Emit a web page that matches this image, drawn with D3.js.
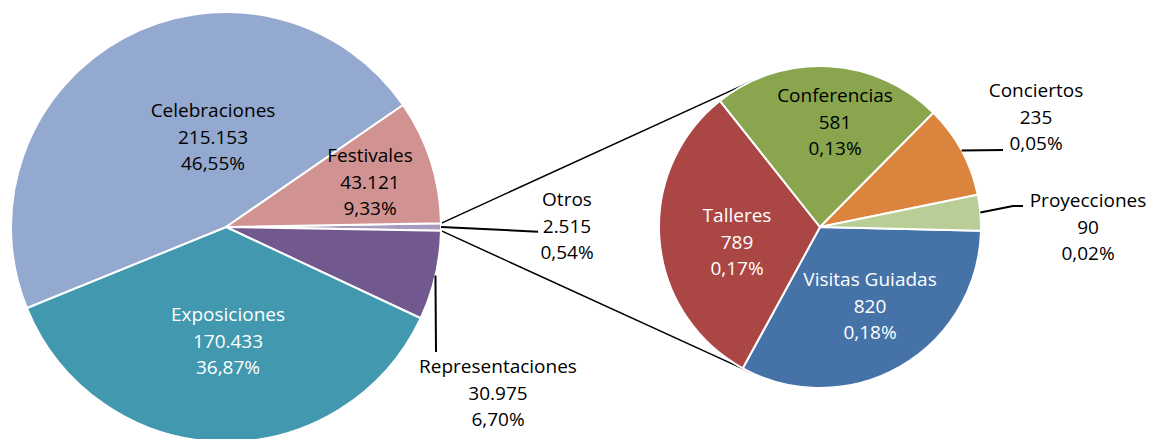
<!DOCTYPE html>
<html>
<head>
<meta charset="utf-8">
<script src="https://cdn.jsdelivr.net/npm/d3@7"></script>
<style>
  body { margin: 0; background: #fff; }
  text { font-family: "Open Sans", Lato, sans-serif; font-size: 19px; }
</style>
</head>
<body>
<div id="chart"></div>
<script>
// data
var mainLabels = ["Otros", "Representaciones", "Exposiciones", "Celebraciones", "Festivales"];
var mainValues = [2515, 30975, 170433, 215153, 43121];
var subLabels = ["Visitas Guiadas", "Talleres", "Conferencias", "Conciertos", "Proyecciones"];
var subValues = [820, 789, 581, 235, 90];

var mainColors = ["#A99BBD", "#71588F", "#4198AF", "#93A9CF", "#D19392"];
var subColors = ["#4572A7", "#AA4643", "#89A54E", "#DB843D", "#B9CD96"];

// label placement (offset from pie centre: x centre, first baseline)
var mainLabelPos = {
  "Celebraciones": [-13, -110, "#000"],
  "Festivales": [144, -65, "#000"],
  "Exposiciones": [2, 94, "#fff"],
  "Representaciones": [272, 146, "#000"],
  "Otros": [341, -21, "#000"]
};
var subLabelPos = {
  "Talleres": [-83, -5, "#fff"],
  "Conferencias": [15, -125, "#000"],
  "Visitas Guiadas": [50, 59, "#fff"],
  "Conciertos": [216, -130, "#000"],
  "Proyecciones": [268, -20, "#000"]
};
// leader lines: extra points after the slice anchor (offset from pie centre)
var mainLeaders = {
  "Otros": [[312, 4.7]],
  "Representaciones": [[210, 125]]
};
var subLeaders = {
  "Conciertos": [[183, -77]],
  "Proyecciones": [[193, -21], [203, -21]]
};

var width = 1149, height = 439;
var mainC = [226, 227], mainR = 215;
var subC = [820, 227], subR = 161;
var lineH = 26.7;

var es = d3.formatLocale({decimal: ",", thousands: ".", grouping: [3], currency: ["", " €"]});
var fmtNum = es.format(",");
var fmtPct = es.format(".2%");
var total = d3.sum(mainValues);

var svg = d3.select("#chart").append("svg")
  .attr("width", width)
  .attr("height", height);

var deg = Math.PI / 180;
var otrosSpan = mainValues[0] / total * 2 * Math.PI;

var mainPie = d3.pie().sort(null)
  .startAngle(Math.PI / 2 - otrosSpan / 2)
  .endAngle(Math.PI / 2 - otrosSpan / 2 + 2 * Math.PI);
var subPie = d3.pie().sort(null)
  .startAngle(91.3 * deg)
  .endAngle(91.3 * deg + 2 * Math.PI);

var mainArcs = mainPie(mainValues)
  .map((a, i) => Object.assign(a, {label: mainLabels[i], color: mainColors[i]}));
var subArcs = subPie(subValues)
  .map((a, i) => Object.assign(a, {label: subLabels[i], color: subColors[i]}));

function drawPie(arcs, c, r, labelPos, leaders) {
  var g = svg.append("g").attr("transform", `translate(${c[0]}, ${c[1]})`);
  var arc = d3.arc().innerRadius(0).outerRadius(r);
  var edge = d3.arc().innerRadius(r).outerRadius(r);

  g.selectAll("path.slice")
    .data(arcs)
    .enter()
    .append("path")
    .attr("class", "slice")
    .attr("d", arc)
    .attr("fill", d => d.color)
    .attr("stroke", "#fff")
    .attr("stroke-width", 2)
    .attr("stroke-linejoin", "round");

  // leader lines
  g.selectAll("path.leader")
    .data(arcs.filter(d => leaders[d.label]))
    .enter()
    .append("path")
    .attr("class", "leader")
    .attr("d", d => d3.line()([edge.centroid(d)].concat(leaders[d.label])))
    .attr("fill", "none")
    .attr("stroke", "#000")
    .attr("stroke-width", 2);

  var labels = g.selectAll("text.lbl")
    .data(arcs)
    .enter()
    .append("text")
    .attr("class", "lbl")
    .attr("text-anchor", "middle")
    .attr("fill", d => labelPos[d.label][2]);

  labels.each(function(d) {
    var p = labelPos[d.label];
    var lines = [d.label, fmtNum(d.value), fmtPct(d.value / total)];
    d3.select(this).selectAll("tspan")
      .data(lines)
      .enter()
      .append("tspan")
      .attr("x", p[0])
      .attr("y", (t, i) => p[1] + i * lineH)
      .text(t => t);
  });
  return g;
}

// connector lines from the "Otros" slice to the secondary pie (tangents)
function tangent(p, c, r, side) {
  var dx = p[0] - c[0], dy = p[1] - c[1];
  var d = Math.sqrt(dx * dx + dy * dy);
  var base = Math.atan2(dy, dx);
  var a = base + side * Math.acos(r / d);
  return [c[0] + r * Math.cos(a), c[1] + r * Math.sin(a)];
}
var otros = mainArcs[0];
var pTop = [mainC[0] + mainR * Math.sin(otros.startAngle), mainC[1] - mainR * Math.cos(otros.startAngle)];
var pBot = [mainC[0] + mainR * Math.sin(otros.endAngle), mainC[1] - mainR * Math.cos(otros.endAngle)];

svg.append("path")
  .attr("d", d3.line()([pTop, tangent(pTop, subC, subR, 1)]))
  .attr("stroke", "#000").attr("stroke-width", 1.5).attr("fill", "none");
svg.append("path")
  .attr("d", d3.line()([pBot, tangent(pBot, subC, subR, -1)]))
  .attr("stroke", "#000").attr("stroke-width", 1.5).attr("fill", "none");

drawPie(mainArcs, mainC, mainR, mainLabelPos, mainLeaders);
drawPie(subArcs, subC, subR, subLabelPos, subLeaders);
</script>
</body>
</html>
